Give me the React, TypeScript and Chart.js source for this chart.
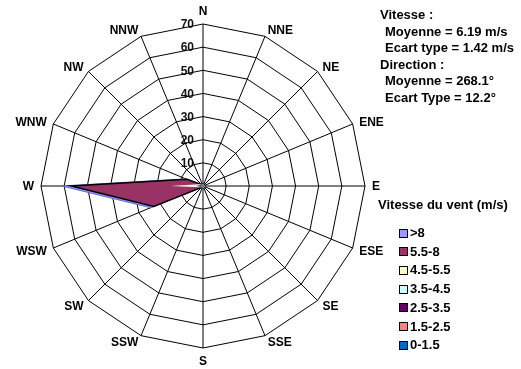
import React, { useEffect, useRef } from "react";
import { Chart, registerables } from "chart.js";

Chart.register(...registerables);

// Directions (clockwise from North)
const directions = ["N", "NNE", "NE", "ENE", "E", "ESE", "SE", "SSE", "S", "SSW", "SW", "WSW", "W", "WNW", "NW", "NNW"];
const tickValues = [0, 10, 20, 30, 40, 50, 60, 70];

// Speed classes (legend shows them from top: >8 ... 0-1.5)
const bandLabels = ["0-1.5", "1.5-2.5", "2.5-3.5", "3.5-4.5", "4.5-5.5", "5.5-8", ">8"];
const bandColors = ["#0066CC", "#FF8080", "#660066", "#CCFFFF", "#FFFFCC", "#993366", "#9999FF"];
const bandBorders = ["#0066CC", "#FF8080", "#000000", "#CCFFFF", "#FFFFCC", "#000000", "#6666CC"];

// Cumulative frequency (%) per direction, as drawn (N, NNE, ..., NNW)
const cum_0_1_5 = [0.3, 0.3, 0.3, 0.3, 0.3, 0.3, 0.3, 0.3, 0.3, 0.3, 0.3, 0.4, 1.0, 0.4, 0.3, 0.3];
const cum_1_5_2_5 = [0.4, 0.4, 0.4, 0.4, 0.4, 0.4, 0.4, 0.4, 0.4, 0.4, 0.4, 0.6, 1.5, 0.6, 0.4, 0.4];
const cum_2_5_3_5 = [0.5, 0.5, 0.5, 0.5, 0.5, 0.5, 0.5, 0.5, 0.5, 0.5, 0.5, 0.8, 3.0, 1.0, 0.5, 0.5];
const cum_3_5_4_5 = [0.6, 0.6, 0.6, 0.6, 0.6, 0.6, 0.6, 0.6, 0.6, 0.6, 0.6, 1.0, 7.0, 1.5, 0.6, 0.6];
const cum_4_5_5_5 = [0.7, 0.7, 0.7, 0.7, 0.7, 0.7, 0.7, 0.7, 0.7, 0.7, 0.7, 1.5, 14.0, 2.0, 0.7, 0.7];
const cum_5_5_8 = [0.8, 0.8, 0.8, 0.8, 0.8, 0.8, 0.8, 0.8, 0.8, 0.8, 0.8, 23.0, 57.0, 7.5, 0.8, 0.8];
const cum_gt_8 = [0.9, 0.9, 0.9, 0.9, 0.9, 0.9, 0.9, 0.9, 0.9, 0.9, 0.9, 24.5, 61.0, 8.0, 0.9, 0.9];

const bandValues = [cum_0_1_5, cum_1_5_2_5, cum_2_5_3_5, cum_3_5_4_5, cum_4_5_5_5, cum_5_5_8, cum_gt_8];

const statsLines = [
  { text: "Vitesse :", indent: false },
  { text: "Moyenne = 6.19 m/s", indent: true },
  { text: "Ecart type = 1.42 m/s", indent: true },
  { text: "Direction :", indent: false },
  { text: "Moyenne = 268.1°", indent: true },
  { text: "Ecart Type = 12.2°", indent: true },
];
const legendTitle = "Vitesse du vent (m/s)";

const FONT = "'Liberation Sans', Arial, sans-serif";

const roseLabels = {
  id: "roseLabels",
  beforeDraw(chart: any) {
    const s = chart.scales.r;
    const ctx = chart.ctx;
    ctx.save();
    ctx.font = `bold 12px ${FONT}`;
    ctx.fillStyle = "#111";
    ctx.textAlign = "right";
    ctx.textBaseline = "middle";
    tickValues.forEach((v) => {
      const y = s.yCenter - s.getDistanceFromCenterForValue(v);
      ctx.fillText(String(v), s.xCenter - 9, y + 1);
    });
    ctx.restore();
  },
  afterDraw(chart: any) {
    const s = chart.scales.r;
    const ctx = chart.ctx;
    ctx.save();
    ctx.font = `bold 12px ${FONT}`;
    ctx.fillStyle = "#000";
    const n = directions.length;
    directions.forEach((d, i) => {
      const deg = (i * 360) / n;
      const p = s.getPointPosition(i, s.drawingArea + 7);
      if (deg === 0) {
        ctx.textAlign = "center";
        ctx.textBaseline = "bottom";
      } else if (deg === 180) {
        ctx.textAlign = "center";
        ctx.textBaseline = "top";
      } else {
        ctx.textAlign = deg < 180 ? "left" : "right";
        ctx.textBaseline = "middle";
      }
      ctx.fillText(d, p.x, p.y + 1);
    });
    ctx.restore();
  },
};

export default function App() {
  const canvasRef = useRef<HTMLCanvasElement | null>(null);

  useEffect(() => {
    const canvas = canvasRef.current;
    if (!canvas) return;
    const chart = new Chart(canvas, {
      type: "radar",
      data: {
        labels: directions,
        datasets: bandLabels.map((label, k) => ({
          label,
          data: bandValues[k],
          backgroundColor: bandColors[k],
          borderColor: bandBorders[k],
          borderWidth: k === 5 ? 1.5 : k === 6 ? 1 : 0,
          fill: true,
          pointRadius: 0,
        })),
      },
      options: {
        responsive: false,
        animation: false,
        devicePixelRatio: 1,
        layout: { padding: { left: 41, top: 24, right: 156, bottom: 21 } },
        plugins: { legend: { display: false }, tooltip: { enabled: false } },
        elements: { line: { tension: 0 }, point: { radius: 0 } },
        scales: {
          r: {
            min: 0,
            max: 70,
            ticks: { stepSize: 10, display: false },
            pointLabels: { display: false },
            grid: { color: "#000", lineWidth: 1 },
            angleLines: { color: "#000", lineWidth: 1 },
          },
        },
      },
      plugins: [roseLabels],
    });
    return () => chart.destroy();
  }, []);

  const legendItems = bandLabels.map((l, k) => ({ label: l, color: bandColors[k] })).reverse();

  return (
    <div style={{ position: "absolute", left: 0, top: 0, width: 521, height: 369, background: "#fff", fontFamily: FONT }}>
      <canvas ref={canvasRef} width={521} height={369} style={{ position: "absolute", left: 0, top: 0 }} />
      {statsLines.map((l, i) => (
        <div
          key={i}
          style={{
            position: "absolute",
            left: l.indent ? 385 : 380,
            top: 7 + i * 16.6,
            fontSize: 13,
            fontWeight: "bold",
            lineHeight: "16px",
            whiteSpace: "nowrap",
            color: "#000",
          }}
        >
          {l.text}
        </div>
      ))}
      <div style={{ position: "absolute", left: 378, top: 197, fontSize: 13, fontWeight: "bold", lineHeight: "16px", whiteSpace: "nowrap" }}>
        {legendTitle}
      </div>
      {legendItems.map((it, i) => (
        <div key={it.label} style={{ position: "absolute", left: 399, top: 225 + i * 18.7, height: 16, display: "flex", alignItems: "center", whiteSpace: "nowrap" }}>
          <span style={{ display: "inline-block", width: 7, height: 7, background: it.color, border: "1px solid #000" }} />
          <span style={{ marginLeft: 2, fontSize: 13, fontWeight: "bold", lineHeight: "16px" }}>{it.label}</span>
        </div>
      ))}
    </div>
  );
}
